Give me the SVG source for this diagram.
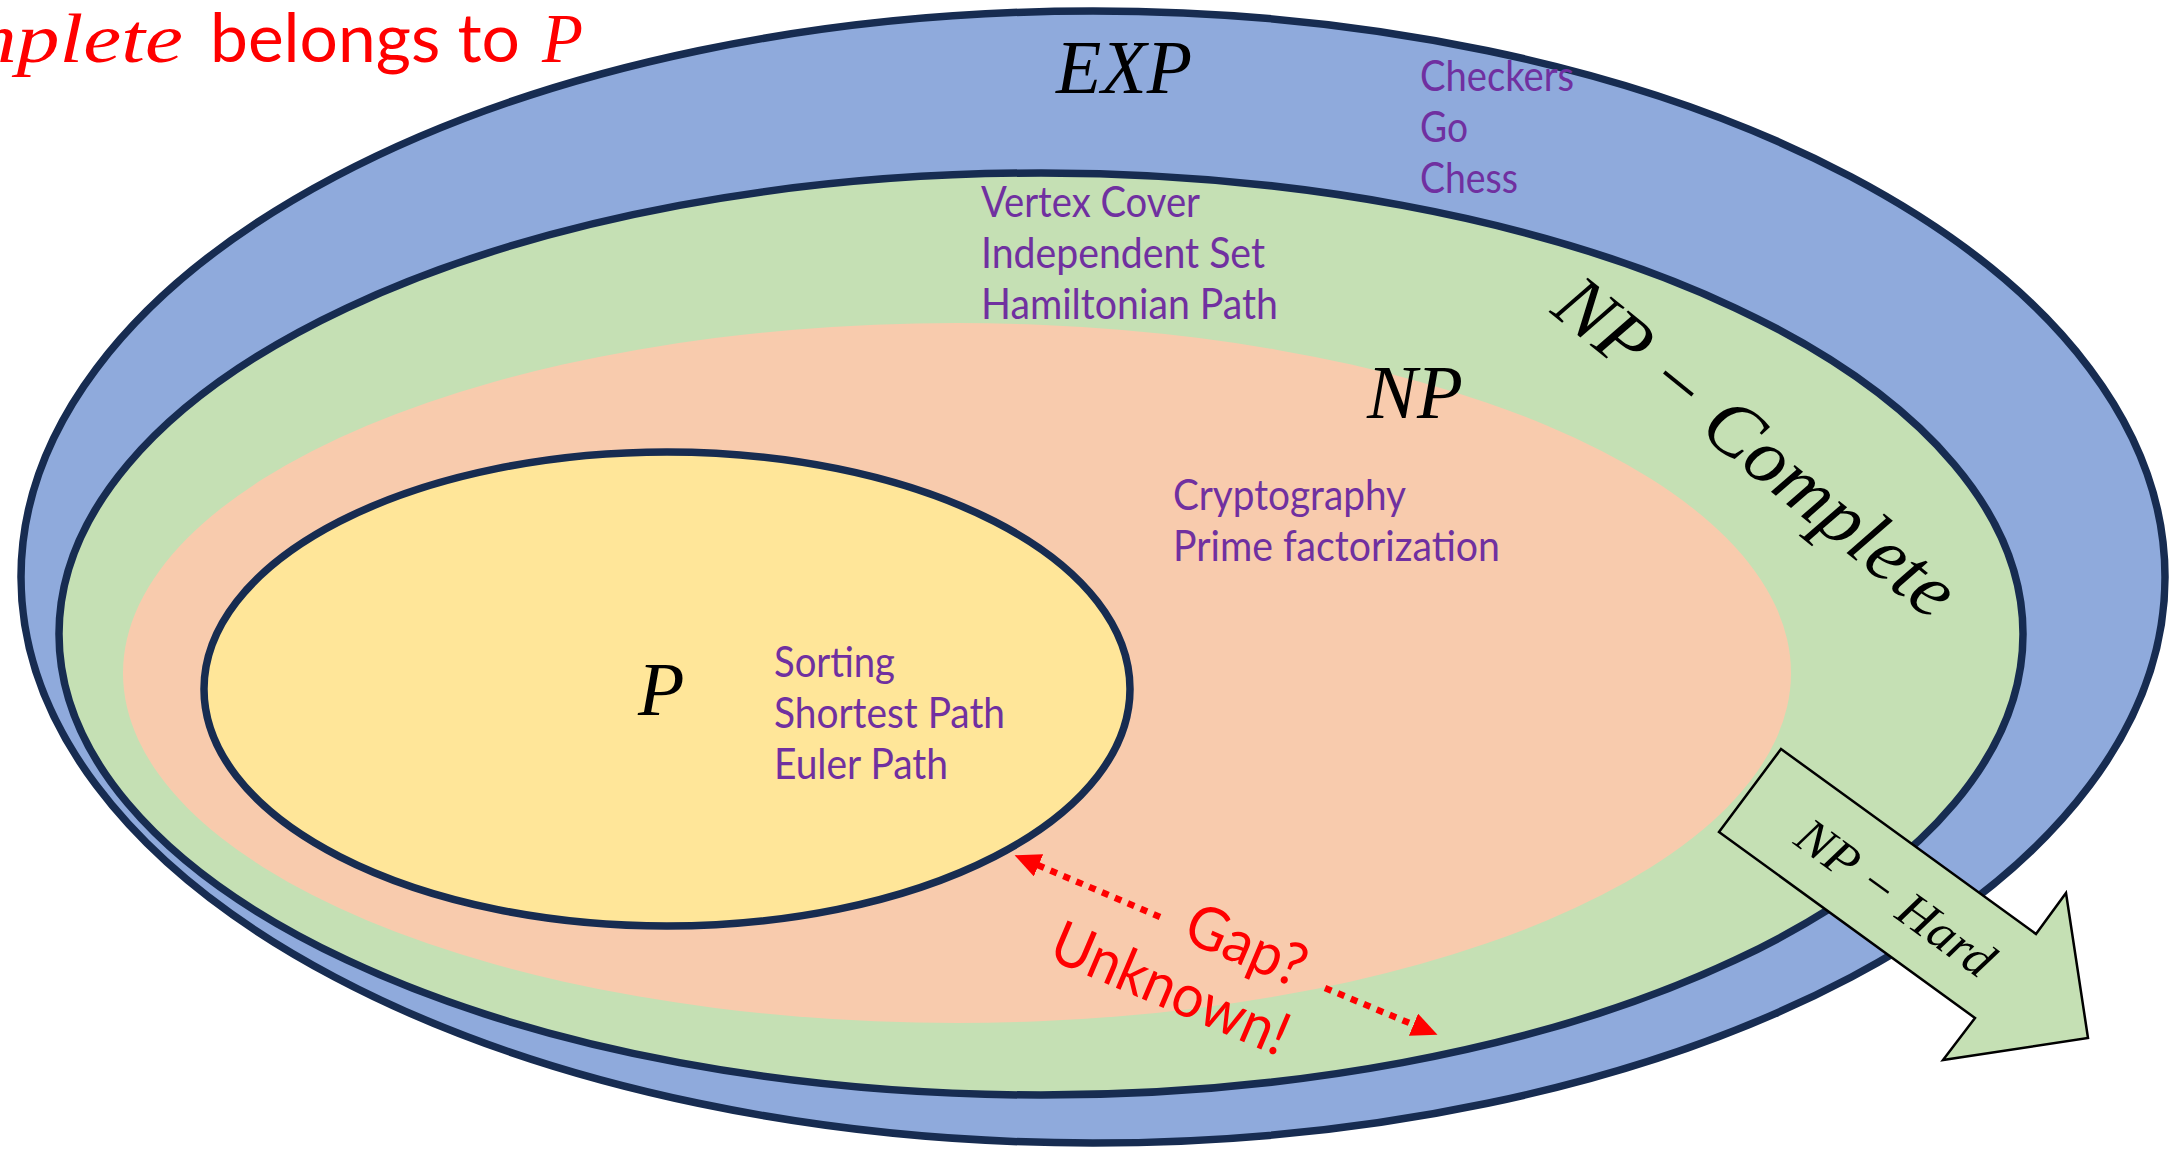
<svg xmlns="http://www.w3.org/2000/svg" width="2172" height="1153" viewBox="0 0 2172 1153">
<defs>
<style>
.set{stroke:#172C51;stroke-width:7.5}
.math{font-family:"Liberation Serif","DejaVu Serif",serif;font-style:italic}
.ex{font-family:Lato,"Liberation Sans",sans-serif;font-size:42.67px;fill:#7030A0}
.sans{font-family:Lato,"Liberation Sans",sans-serif}
.dot{fill:none;stroke:#FF0000;stroke-width:6.5;stroke-dasharray:7 7}
</style>
<marker id="ah" markerUnits="userSpaceOnUse" viewBox="0 0 26 24" refX="6" refY="12" markerWidth="26" markerHeight="24" orient="auto"><path d="M0,0 L26,12 L0,24 Z" fill="#FF0000"/></marker>
</defs>
<rect width="2172" height="1153" fill="#FFFFFF"/>

<g id="node-exp">
<ellipse class="set" cx="1093" cy="577" rx="1072" ry="566" fill="#8FAADC"/>
<text class="math" x="1056" y="93" font-size="76" fill="#000" textLength="136" lengthAdjust="spacingAndGlyphs">EXP</text>
<text class="ex" x="1420" y="91" textLength="154" lengthAdjust="spacingAndGlyphs">Checkers</text>
<text class="ex" x="1420" y="142" textLength="48" lengthAdjust="spacingAndGlyphs">Go</text>
<text class="ex" x="1420" y="193" textLength="98" lengthAdjust="spacingAndGlyphs">Chess</text>
</g>

<g id="node-np-complete">
<ellipse class="set" cx="1041" cy="634" rx="982" ry="461" fill="#C5E0B4"/>
<text class="math" transform="translate(1549,312) rotate(39)" x="0" y="0" font-size="78" fill="#000" textLength="492" lengthAdjust="spacingAndGlyphs">NP − Complete</text>
<text class="ex" x="981" y="217" textLength="219" lengthAdjust="spacingAndGlyphs">Vertex Cover</text>
<text class="ex" x="981" y="268" textLength="284" lengthAdjust="spacingAndGlyphs">Independent Set</text>
<text class="ex" x="981" y="319" textLength="297" lengthAdjust="spacingAndGlyphs">Hamiltonian Path</text>
</g>

<g id="node-np">
<ellipse cx="957" cy="673" rx="834" ry="350" fill="#F8CBAD"/>
<text class="math" x="1367" y="418" font-size="76" fill="#000" textLength="96" lengthAdjust="spacingAndGlyphs">NP</text>
<text class="ex" x="1173" y="510" textLength="233" lengthAdjust="spacingAndGlyphs">Cryptography</text>
<text class="ex" x="1173" y="561" textLength="327" lengthAdjust="spacingAndGlyphs">Prime factorization</text>
</g>

<g id="node-p">
<ellipse class="set" cx="667" cy="689" rx="463" ry="237" fill="#FFE699"/>
<text class="math" x="638" y="715" font-size="76" fill="#000">P</text>
<text class="ex" x="774" y="677" textLength="121" lengthAdjust="spacingAndGlyphs">Sorting</text>
<text class="ex" x="774" y="728" textLength="231" lengthAdjust="spacingAndGlyphs">Shortest Path</text>
<text class="ex" x="774" y="779" textLength="174" lengthAdjust="spacingAndGlyphs">Euler Path</text>
</g>

<g id="node-np-hard">
<polygon points="1781,749 2036,934 2066,893 2088,1038 1943,1060 1975,1018 1719,832" fill="#C5E0B4" stroke="#000" stroke-width="2.5" stroke-linejoin="miter"/>
<text class="math" transform="translate(1792,843) rotate(36)" x="0" y="0" font-size="50" fill="#000" textLength="232" lengthAdjust="spacingAndGlyphs">NP − Hard</text>
</g>

<g id="title">
<text class="math" x="-45" y="62" font-size="70" fill="#FF0000" textLength="228" lengthAdjust="spacingAndGlyphs">mplete</text>
<text class="sans" x="210" y="62" font-size="68" fill="#FF0000" textLength="310" lengthAdjust="spacingAndGlyphs">belongs to</text>
<text class="math" x="542" y="62" font-size="70" fill="#FF0000" textLength="41" lengthAdjust="spacingAndGlyphs">P</text>
</g>

<g id="connectors">
<path class="dot" d="M1160,917 L1033,863" marker-end="url(#ah)"/>
<path class="dot" d="M1325,988 L1419,1027" marker-end="url(#ah)"/>
<text class="sans" transform="translate(1243,953) rotate(23)" x="0" y="12" text-anchor="middle" font-size="60" fill="#FF0000" textLength="125" lengthAdjust="spacingAndGlyphs">Gap?</text>
<text class="sans" transform="translate(1170,990) rotate(23)" x="0" y="19" text-anchor="middle" font-size="60" fill="#FF0000" textLength="252" lengthAdjust="spacingAndGlyphs">Unknown!</text>
</g>
</svg>
